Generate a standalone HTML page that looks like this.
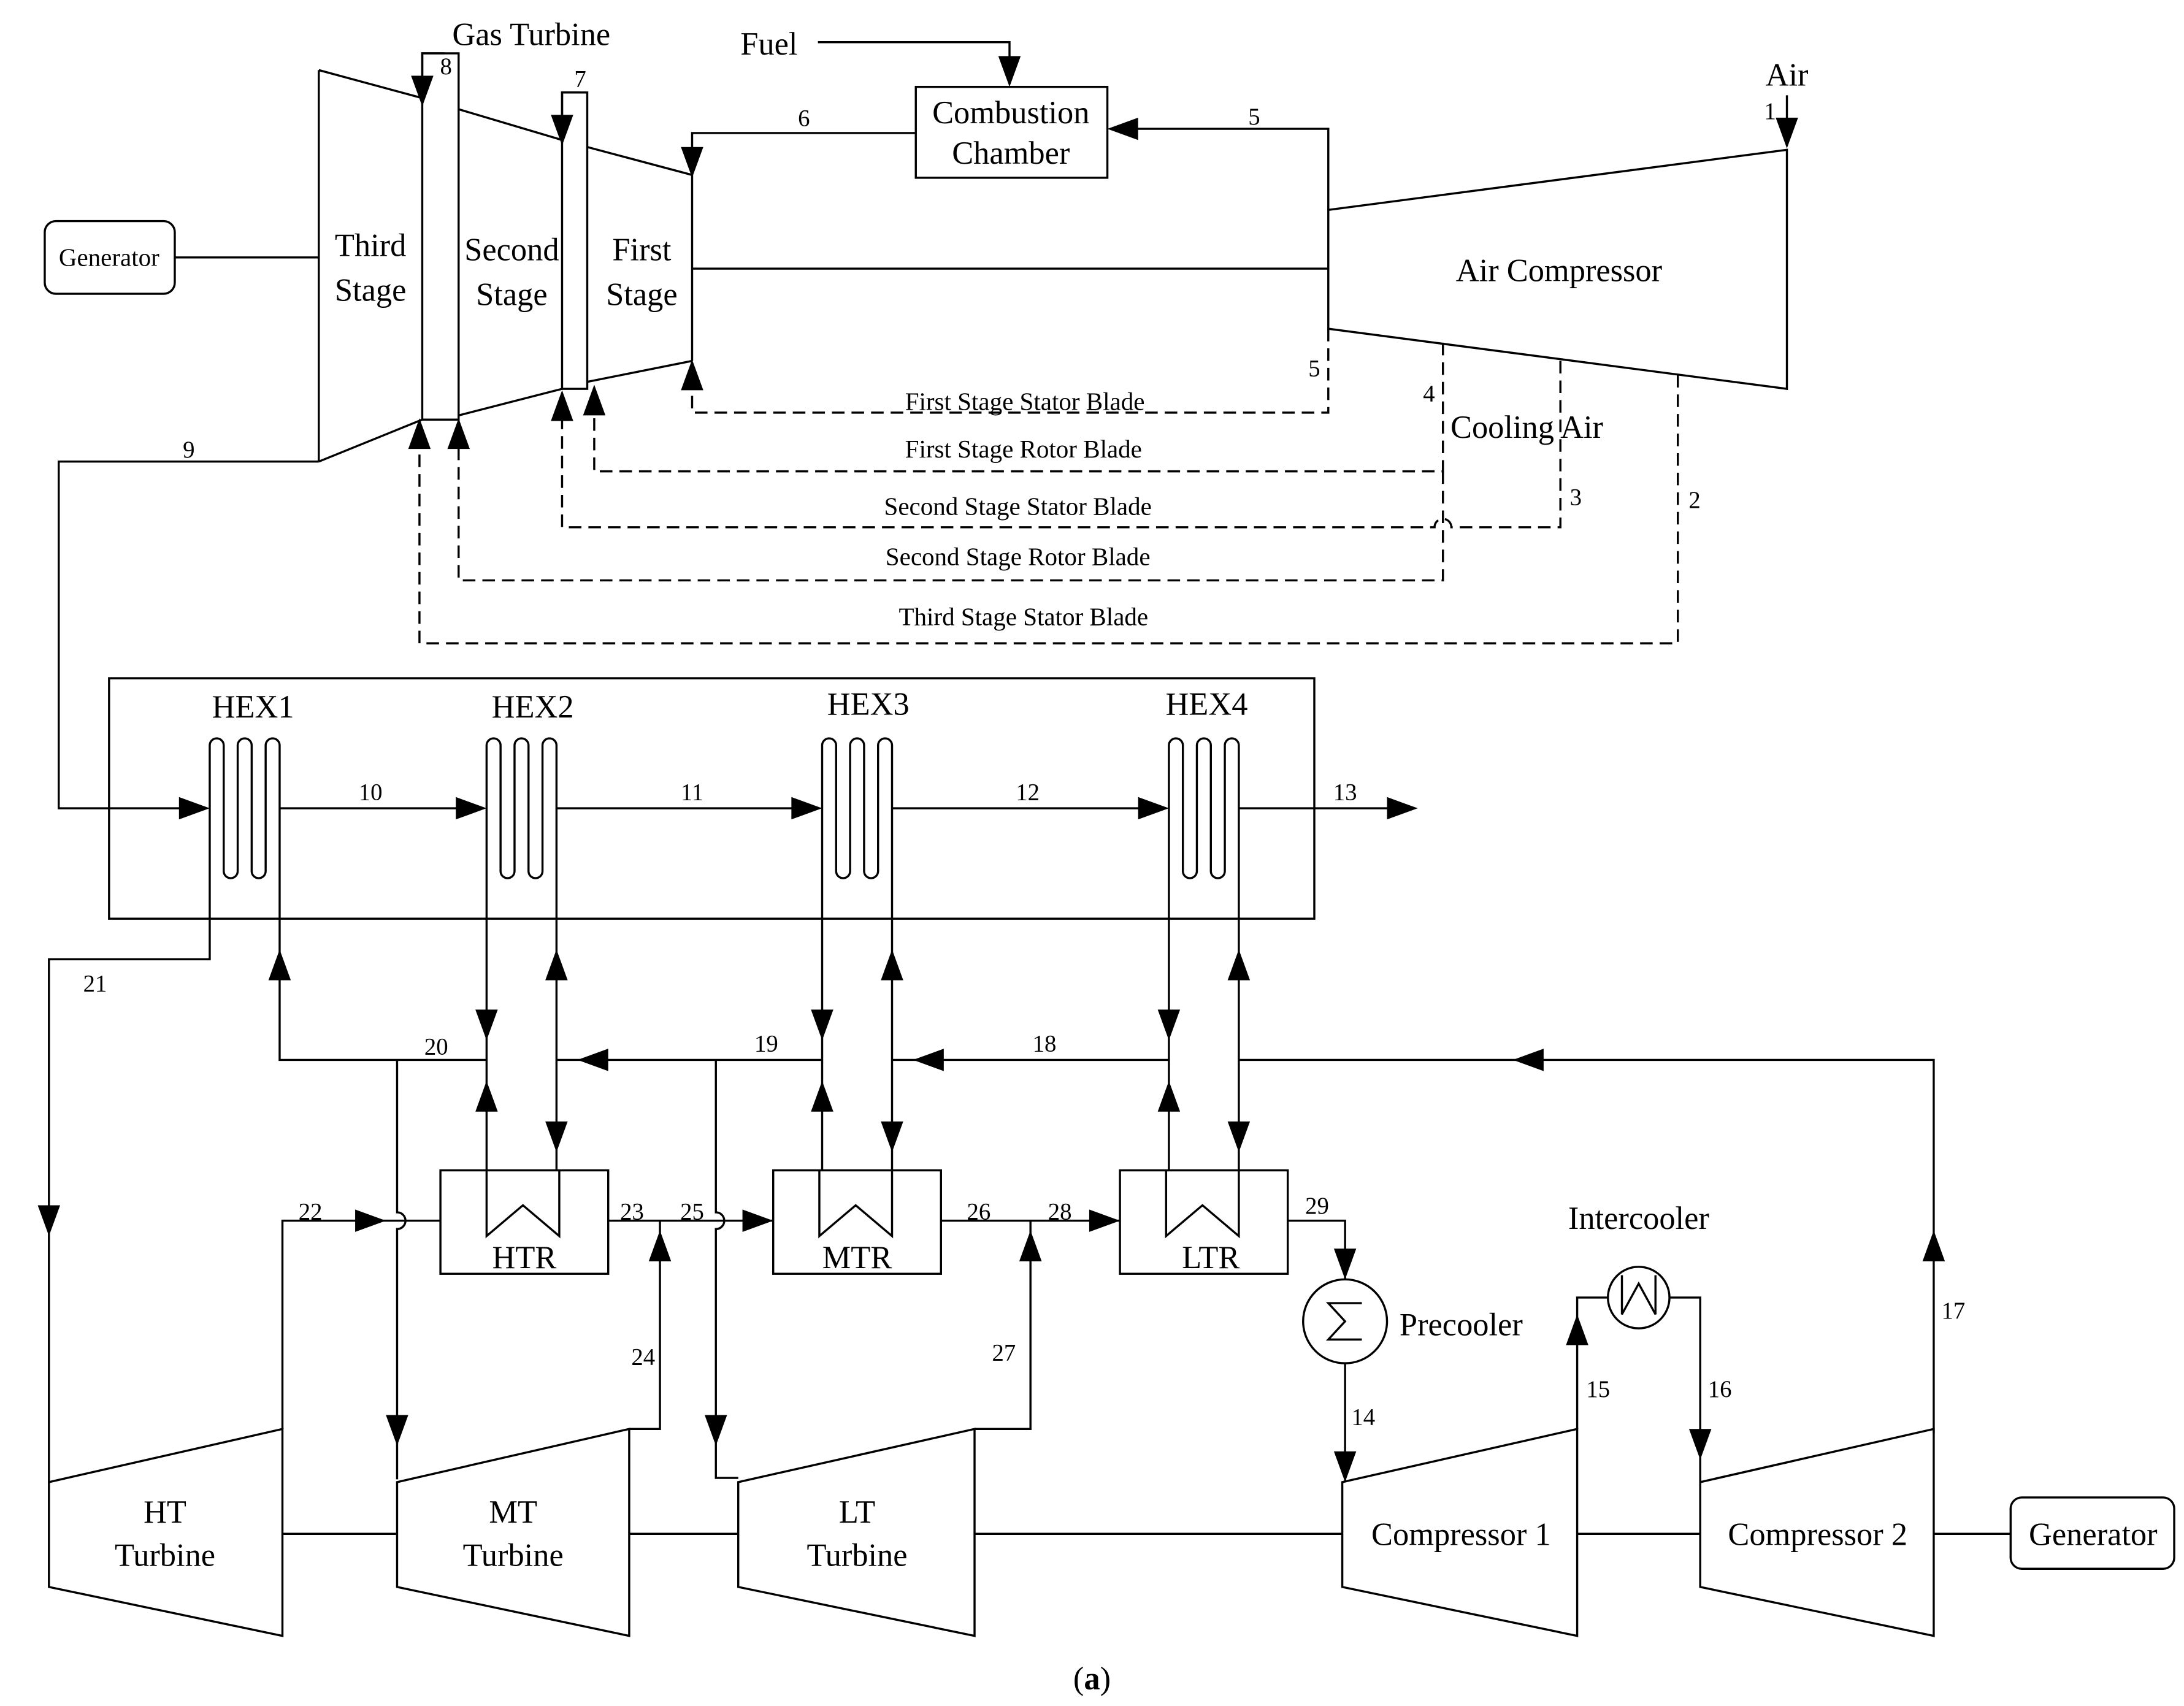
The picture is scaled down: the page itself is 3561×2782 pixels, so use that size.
<!DOCTYPE html>
<html><head><meta charset="utf-8">
<style>
html,body{margin:0;padding:0;background:#fff;}
svg{display:block;}
text{font-family:"Liberation Serif",serif;fill:#000;}
</style></head>
<body>
<svg width="3561" height="2782" viewBox="0 0 1562 1220" xmlns="http://www.w3.org/2000/svg">
<defs>
<path id="ah" d="M0,0 L-22,-8 L-22,8 Z" fill="#000"/>
<path id="hex" fill="none" stroke="#000" stroke-width="1.5" d="M0,657 V533 A5,5 0 0 1 10,533 V623 A5,5 0 0 0 20,623 V533 A5,5 0 0 1 30,533 V623 A5,5 0 0 0 40,623 V533 A5,5 0 0 1 50,533 V657"/>
<path id="rs" fill="none" stroke="#000" stroke-width="1.5" d="M348,837 V884 L374,862 L400,884 V837"/>
</defs>
<rect width="1562" height="1220" fill="#fff"/>
<g fill="none" stroke="#000" stroke-width="1.5">
<line x1="228" y1="50" x2="228" y2="330"/>
<line x1="228" y1="50" x2="302" y2="70"/>
<line x1="328" y1="78" x2="402" y2="100"/>
<line x1="420" y1="105" x2="495" y2="125"/>
<line x1="228" y1="330" x2="302" y2="300"/>
<line x1="328" y1="297" x2="402" y2="278"/>
<line x1="420" y1="273" x2="495" y2="258"/>
<line x1="495" y1="125" x2="495" y2="258"/>
<rect x="302" y="38" width="26" height="262"/>
<rect x="402" y="66" width="18" height="212"/>
<polyline points="318,38 302,38 302,70"/>
<polyline points="415,66 402,66 402,100"/>
<line x1="495" y1="192" x2="950" y2="192"/>
<rect x="32" y="158" width="93" height="52" rx="8"/>
<line x1="125" y1="184" x2="228" y2="184"/>
<polyline points="655,95 495,95 495,122"/>
<rect x="655" y="62" width="137" height="65"/>
<polyline points="585,30 722,30 722,58"/>
<polyline points="950,150 950,92 795,92"/>
<polygon points="950,150 1278,107 1278,278 950,235"/>
<line x1="1278" y1="68" x2="1278" y2="104"/>
<polyline points="228,330 42,330 42,578 148,578"/>
<rect x="78" y="485" width="862" height="172"/>
<line x1="200" y1="578" x2="346" y2="578"/>
<line x1="398" y1="578" x2="586" y2="578"/>
<line x1="638" y1="578" x2="834" y2="578"/>
<line x1="886" y1="578" x2="1010" y2="578"/>
<polyline points="150,657 150,686 35,686 35,1060"/>
<polyline points="200,657 200,758 348,758"/>
<path d="M284,758 V867 A6,6 0 0 1 284,879 V1058"/>
<line x1="348" y1="657" x2="348" y2="837"/>
<line x1="398" y1="657" x2="398" y2="837"/>
<line x1="398" y1="758" x2="588" y2="758"/>
<path d="M512,758 V867 A6,6 0 0 1 512,879 V1057 H528"/>
<line x1="588" y1="657" x2="588" y2="837"/>
<line x1="638" y1="657" x2="638" y2="837"/>
<line x1="638" y1="758" x2="836" y2="758"/>
<line x1="836" y1="657" x2="836" y2="837"/>
<line x1="886" y1="657" x2="886" y2="837"/>
<polyline points="886,758 1383,758 1383,1025"/>
<rect x="315" y="837" width="120" height="74"/>
<rect x="553" y="837" width="120" height="74"/>
<rect x="801" y="837" width="120" height="74"/>
<polygon points="35,1060 202,1022 202,1170 35,1135"/>
<polygon points="284,1060 450,1022 450,1170 284,1135"/>
<polygon points="528,1060 697,1022 697,1170 528,1135"/>
<polygon points="960,1060 1128,1022 1128,1170 960,1135"/>
<polygon points="1216,1060 1383,1022 1383,1170 1216,1135"/>
<line x1="202" y1="1097" x2="284" y2="1097"/>
<line x1="450" y1="1097" x2="528" y2="1097"/>
<line x1="697" y1="1097" x2="960" y2="1097"/>
<line x1="1128" y1="1097" x2="1216" y2="1097"/>
<line x1="1383" y1="1097" x2="1438" y2="1097"/>
<rect x="1438" y="1071" width="117" height="51" rx="8"/>
<polyline points="202,1022 202,873 315,873"/>
<line x1="435" y1="873" x2="553" y2="873"/>
<polyline points="450,1022 472,1022 472,873"/>
<line x1="673" y1="873" x2="801" y2="873"/>
<polyline points="697,1022 737,1022 737,873"/>
<polyline points="921,873 962,873 962,915"/>
<circle cx="962" cy="945" r="30"/>
<polyline points="974,932 950,932 962,945 950,958 974,958"/>
<line x1="962" y1="975" x2="962" y2="1060"/>
<polyline points="1128,1022 1128,928 1150,928"/>
<circle cx="1172" cy="928" r="22"/>
<polyline points="1194,928 1216,928 1216,1060"/>
<polyline points="1160,912 1160,940 1172,918 1184,940 1184,912"/>
</g>
<use href="#hex" x="150"/>
<use href="#hex" x="348"/>
<use href="#hex" x="588"/>
<use href="#hex" x="836"/>
<use href="#rs"/>
<use href="#rs" x="238"/>
<use href="#rs" x="486"/>
<g fill="none" stroke="#000" stroke-width="1.5" stroke-dasharray="9,5">
<polyline points="950,235 950,295 495,295 495,262"/>
<polyline points="1032,245 1032,337 425,337 425,280"/>
<path d="M1116,258 V377 H1038 A6,6 0 0 0 1026,377 H402 V285"/>
<polyline points="1032,337 1032,415 328,415 328,302"/>
<polyline points="1200,268 1200,460 300,460 300,302"/>
</g>
<g>
<use href="#ah" transform="translate(302,76) rotate(90)"/>
<use href="#ah" transform="translate(402,104) rotate(90)"/>
<use href="#ah" transform="translate(495,127) rotate(90)"/>
<use href="#ah" transform="translate(722,62) rotate(90)"/>
<use href="#ah" transform="translate(792,92) rotate(180)"/>
<use href="#ah" transform="translate(1278,106) rotate(90)"/>
<use href="#ah" transform="translate(495,257) rotate(-90)"/>
<use href="#ah" transform="translate(425,275) rotate(-90)"/>
<use href="#ah" transform="translate(402,279) rotate(-90)"/>
<use href="#ah" transform="translate(328,299) rotate(-90)"/>
<use href="#ah" transform="translate(300,299) rotate(-90)"/>
<use href="#ah" transform="translate(150,578)"/>
<use href="#ah" transform="translate(348,578)"/>
<use href="#ah" transform="translate(588,578)"/>
<use href="#ah" transform="translate(836,578)"/>
<use href="#ah" transform="translate(1014,578)"/>
<use href="#ah" transform="translate(35,884) rotate(90)"/>
<use href="#ah" transform="translate(200,679) rotate(-90)"/>
<use href="#ah" transform="translate(348,744) rotate(90)"/>
<use href="#ah" transform="translate(348,773) rotate(-90)"/>
<use href="#ah" transform="translate(398,679) rotate(-90)"/>
<use href="#ah" transform="translate(398,824) rotate(90)"/>
<use href="#ah" transform="translate(413,758) rotate(180)"/>
<use href="#ah" transform="translate(588,744) rotate(90)"/>
<use href="#ah" transform="translate(588,773) rotate(-90)"/>
<use href="#ah" transform="translate(638,679) rotate(-90)"/>
<use href="#ah" transform="translate(638,824) rotate(90)"/>
<use href="#ah" transform="translate(653,758) rotate(180)"/>
<use href="#ah" transform="translate(836,744) rotate(90)"/>
<use href="#ah" transform="translate(836,773) rotate(-90)"/>
<use href="#ah" transform="translate(886,679) rotate(-90)"/>
<use href="#ah" transform="translate(886,824) rotate(90)"/>
<use href="#ah" transform="translate(1082,758) rotate(180)"/>
<use href="#ah" transform="translate(1383,880) rotate(-90)"/>
<use href="#ah" transform="translate(284,1034) rotate(90)"/>
<use href="#ah" transform="translate(512,1034) rotate(90)"/>
<use href="#ah" transform="translate(276,873)"/>
<use href="#ah" transform="translate(553,873)"/>
<use href="#ah" transform="translate(472,880) rotate(-90)"/>
<use href="#ah" transform="translate(801,873)"/>
<use href="#ah" transform="translate(737,880) rotate(-90)"/>
<use href="#ah" transform="translate(962,915) rotate(90)"/>
<use href="#ah" transform="translate(962,1060) rotate(90)"/>
<use href="#ah" transform="translate(1128,940) rotate(-90)"/>
<use href="#ah" transform="translate(1216,1044) rotate(90)"/>
</g>
<g font-size="23" text-anchor="middle">
<text x="380" y="32">Gas Turbine</text>
<text x="550" y="39">Fuel</text>
<text x="723" y="88">Combustion</text>
<text x="723" y="117">Chamber</text>
<text x="1278" y="61">Air</text>
<text x="265" y="183">Third</text><text x="265" y="215">Stage</text>
<text x="366" y="186">Second</text><text x="366" y="218">Stage</text>
<text x="459" y="186">First</text><text x="459" y="218">Stage</text>
<text x="1115" y="201">Air Compressor</text>
<text x="1092" y="313">Cooling Air</text>
<text x="181" y="513">HEX1</text>
<text x="381" y="513">HEX2</text>
<text x="621" y="511">HEX3</text>
<text x="863" y="511">HEX4</text>
<text x="375" y="907">HTR</text>
<text x="613" y="907">MTR</text>
<text x="866" y="907">LTR</text>
<text x="1172" y="879">Intercooler</text>
<text x="1045" y="955">Precooler</text>
<text x="118" y="1089">HT</text><text x="118" y="1120">Turbine</text>
<text x="367" y="1089">MT</text><text x="367" y="1120">Turbine</text>
<text x="613" y="1089">LT</text><text x="613" y="1120">Turbine</text>
<text x="1045" y="1105">Compressor 1</text>
<text x="1300" y="1105">Compressor 2</text>
<text x="1497" y="1105">Generator</text>
<text x="781" y="1208">(<tspan font-weight="bold">a</tspan>)</text>
</g>
<g font-size="18" text-anchor="middle">
<text x="78" y="190">Generator</text>
<text x="733" y="293">First Stage Stator Blade</text>
<text x="732" y="327">First Stage Rotor Blade</text>
<text x="728" y="368">Second Stage Stator Blade</text>
<text x="728" y="404">Second Stage Rotor Blade</text>
<text x="732" y="447">Third Stage Stator Blade</text>
</g>
<g font-size="17" text-anchor="middle">
<text x="319" y="53">8</text>
<text x="415" y="62">7</text>
<text x="575" y="90">6</text>
<text x="897" y="89">5</text>
<text x="1266" y="85">1</text>
<text x="940" y="269">5</text>
<text x="1022" y="287">4</text>
<text x="1127" y="361">3</text>
<text x="1212" y="363">2</text>
<text x="135" y="327">9</text>
<text x="265" y="572">10</text>
<text x="495" y="572">11</text>
<text x="735" y="572">12</text>
<text x="962" y="572">13</text>
<text x="68" y="709">21</text>
<text x="312" y="754">20</text>
<text x="548" y="752">19</text>
<text x="747" y="752">18</text>
<text x="222" y="872">22</text>
<text x="452" y="872">23</text>
<text x="495" y="872">25</text>
<text x="700" y="872">26</text>
<text x="758" y="872">28</text>
<text x="942" y="868">29</text>
<text x="460" y="976">24</text>
<text x="718" y="973">27</text>
<text x="975" y="1019">14</text>
<text x="1143" y="999">15</text>
<text x="1230" y="999">16</text>
<text x="1397" y="943">17</text>
</g>
</svg>
</body></html>
